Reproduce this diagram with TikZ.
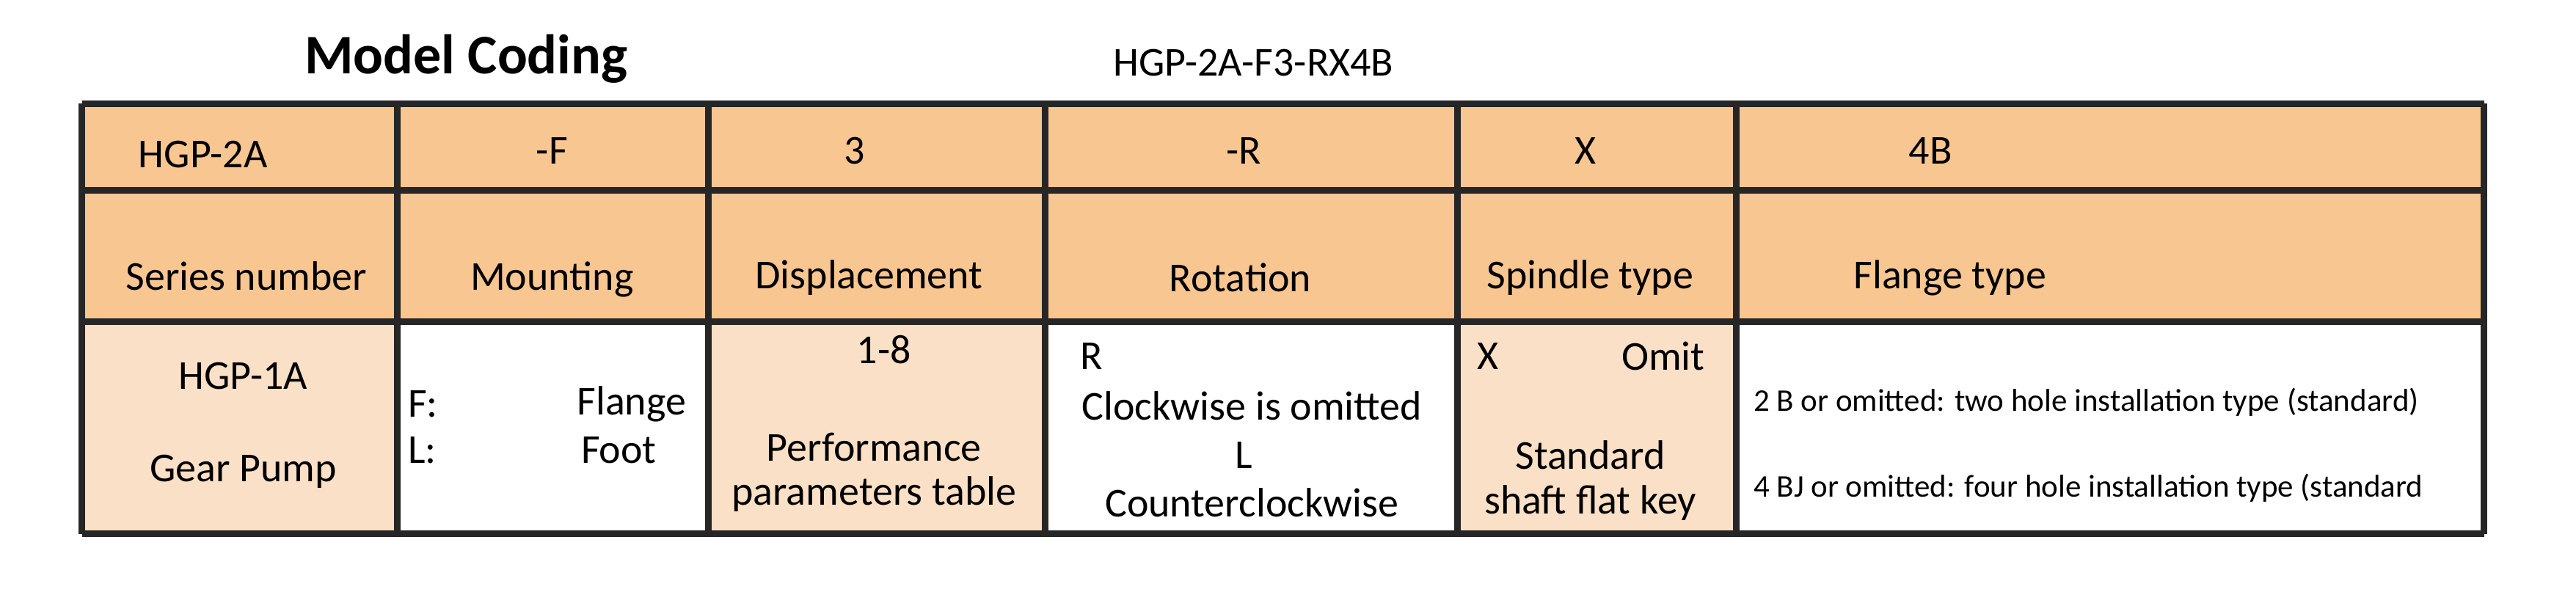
\documentclass[tikz,border=0pt]{standalone}
\usepackage{fontspec}
\setmainfont{Carlito}
\begin{document}
\begin{tikzpicture}[x=0.5pt,y=-0.5pt,
  tx/.style={inner sep=0pt,font=\fontsize{12.5}{14}\selectfont},
  sm/.style={inner sep=0pt,font=\fontsize{9.6}{11}\selectfont},
  grid/.style={line width=2pt,draw=black!85}]
\definecolor{hd}{HTML}{F8C690}
\definecolor{lt}{HTML}{FAE0C6}
\useasboundingbox (0,0) rectangle (1568,360);
\fill[white] (0,0) rectangle (1568,360);
% fills
\fill[hd] (50,63) rectangle (1512,196);
\fill[lt] (50,196) rectangle (242,325);
\fill[lt] (431,196) rectangle (636,325);
\fill[lt] (887,196) rectangle (1057,325);
% grid
\draw[grid] (50,63) -- (1512,63);
\draw[grid] (50,116) -- (1512,116);
\draw[grid] (50,196) -- (1512,196);
\draw[grid] (50,325) -- (1512,325);
\foreach \x in {50,242,431,636,887,1057,1512} \draw[grid] (\x,63) -- (\x,325);
% title
\node[inner sep=0pt,anchor=west,font=\fontsize{17}{20}\selectfont\bfseries] (title) at (185,36) {Model Coding};
\node[tx] (code) at (763,38) {HGP-2A-F3-RX4B};
% row 1
\node[tx,anchor=west] (c1) at (84,94) {HGP-2A};
\node[tx] (c2) at (336,92) {-F};
\node[tx] (c3) at (520,92) {3};
\node[tx] (c4) at (757,92) {-R};
\node[tx] (c5) at (965,92) {X};
\node[tx] (c6) at (1175,92) {4B};
% row 2
\node[tx] (h1) at (150,168) {Series number};
\node[tx] (h2) at (336,170) {Mounting};
\node[tx] (h3) at (529,169) {Displacement};
\node[tx] (h4) at (755,169) {Rotation};
\node[tx] (h5) at (968,169) {Spindle type};
\node[tx] (h6) at (1187,169) {Flange type};
% row 3
\node[tx] (s1) at (148,229) {HGP-1A};
\node[tx] (s2) at (148,287) {Gear Pump};
\node[tx,anchor=west] (m1) at (248,246) {F:};
\node[tx,anchor=east] (m2) at (418,246) {Flange};
\node[tx,anchor=west] (m3) at (248,274) {L:};
\node[tx,anchor=east] (m4) at (400,274) {Foot};
\node[tx] (d1) at (538,213) {1-8};
\node[tx] (d2) at (532,272) {Performance};
\node[tx] (d3) at (532,301) {parameters table};
\node[tx,anchor=west] (r1) at (657,217) {R};
\node[tx] (r2) at (762,247) {Clockwise is omitted};
\node[tx] (r3) at (757,277) {L};
\node[tx] (r4) at (762,306) {Counterclockwise};
\node[tx,anchor=west] (p1) at (899,217) {X};
\node[tx,anchor=east] (p2) at (1038,217) {Omit};
\node[tx] (p3) at (968,277) {Standard};
\node[tx] (p4) at (968,306) {shaft flat key};
\node[sm,anchor=west] (f1) at (1067,245) {2 B or omitted: two hole installation type (standard)};
\node[sm,anchor=west] (f2) at (1067,297) {4 BJ or omitted: four hole installation type (standard};
\end{tikzpicture}
\end{document}
